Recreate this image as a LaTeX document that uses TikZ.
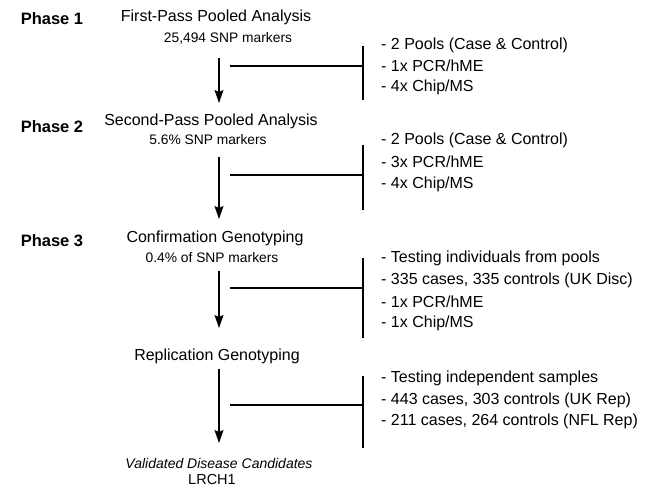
\documentclass[tikz,border=0pt]{standalone}
\usepackage{fontspec}
\setmainfont{Liberation Sans}
\usetikzlibrary{arrows.meta}
\begin{document}
\begin{tikzpicture}[x=1pt,y=-1pt,
  phase/.style={font=\fontsize{16.5}{18}\selectfont\bfseries, inner sep=0pt},
  head/.style={font=\fontsize{16}{18}\selectfont, inner sep=0pt},
  sub/.style={font=\fontsize{13.8}{16}\selectfont, inner sep=0pt},
  item/.style={font=\fontsize{16}{18}\selectfont, inner sep=0pt, anchor=west},
  flow/.style={line width=1.2pt, -{Stealth[width=9pt,length=13pt,inset=2pt]}},
  link/.style={line width=1.1pt},
  bar/.style={line width=1.1pt}]
\path[use as bounding box] (0,0) rectangle (662,489);

% phase labels
\node[phase] (p1) at (52,19) {Phase 1};
\node[phase] (p2) at (52,127) {Phase 2};
\node[phase] (p3) at (52,241) {Phase 3};

% stage titles
\node[head] (h1) at (216,17) {First-Pass Pooled Analysis};
\node[sub]  (s1) at (228,38) {25,494 SNP markers};
\node[head] (h2) at (211,121) {Second-Pass Pooled Analysis};
\node[sub]  (s2) at (208,140) {5.6\% SNP markers};
\node[head] (h3) at (215,238) {Confirmation Genotyping};
\node[sub]  (s3) at (212,258) {0.4\% of SNP markers};
\node[head] (h4) at (217,356) {Replication Genotyping};
\node[sub, font=\fontsize{14}{16}\selectfont\itshape] (v) at (219,463) {Validated Disease Candidates};
\node[head, font=\fontsize{14.5}{16}\selectfont] (g) at (212,480) {LRCH1};

% flow arrows
\coordinate (a1s) at (219,58);  \coordinate (a1e) at (219,103);
\coordinate (a2s) at (219,157); \coordinate (a2e) at (219,219);
\coordinate (a3s) at (219,271); \coordinate (a3e) at (219,328);
\coordinate (a4s) at (219,369); \coordinate (a4e) at (219,443);
\draw[flow] (a1s) -- (a1e);
\draw[flow] (a2s) -- (a2e);
\draw[flow] (a3s) -- (a3e);
\draw[flow] (a4s) -- (a4e);

% brackets with their detail lists
\coordinate (b1t) at (363,46);  \coordinate (b1b) at (363,100);
\coordinate (b2t) at (363,145); \coordinate (b2b) at (363,210);
\coordinate (b3t) at (363,258); \coordinate (b3b) at (363,338);
\coordinate (b4t) at (363,376); \coordinate (b4b) at (363,448);
\draw[bar] (b1t) -- (b1b);
\draw[bar] (b2t) -- (b2b);
\draw[bar] (b3t) -- (b3b);
\draw[bar] (b4t) -- (b4b);

\coordinate (l1) at (230,66);  \draw[link] (l1) -- (b1t |- l1);
\coordinate (l2) at (230,175); \draw[link] (l2) -- (b2t |- l2);
\coordinate (l3) at (230,288); \draw[link] (l3) -- (b3t |- l3);
\coordinate (l4) at (230,405); \draw[link] (l4) -- (b4t |- l4);

\node[item] (i11) at (381,45) {- 2 Pools (Case \& Control)};
\node[item] (i12) at (381,66) {- 1x PCR/hME};
\node[item] (i13) at (381,87) {- 4x Chip/MS};

\node[item] (i21) at (381,140) {- 2 Pools (Case \& Control)};
\node[item] (i22) at (381,162) {- 3x PCR/hME};
\node[item] (i23) at (381,184) {- 4x Chip/MS};

\node[item] (i31) at (381,258) {- Testing individuals from pools};
\node[item] (i32) at (381,280) {- 335 cases, 335 controls (UK Disc)};
\node[item] (i33) at (381,302) {- 1x PCR/hME};
\node[item] (i34) at (381,323) {- 1x Chip/MS};

\node[item] (i41) at (381,378) {- Testing independent samples};
\node[item] (i42) at (381,400) {- 443 cases, 303 controls (UK Rep)};
\node[item] (i43) at (381,421) {- 211 cases, 264 controls (NFL Rep)};
\end{tikzpicture}
\end{document}
